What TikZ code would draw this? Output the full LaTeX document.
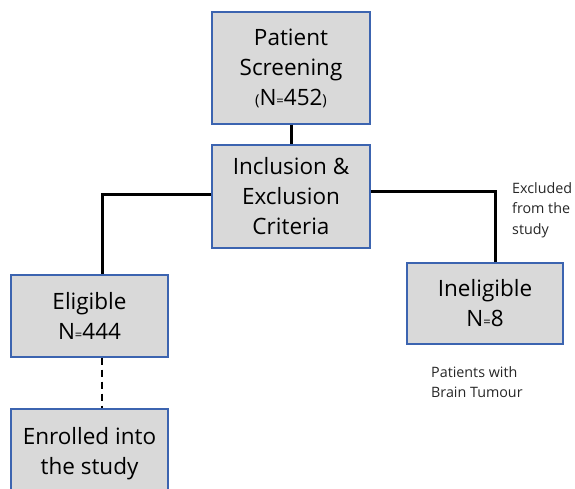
\documentclass[tikz,border=0pt]{standalone}
\usepackage{fontspec}
\setmainfont{Open Sans}
\usetikzlibrary{positioning}
\definecolor{boxfill}{HTML}{D9D9D9}
\definecolor{boxedge}{HTML}{3C64B0}
\definecolor{notetext}{HTML}{262626}
\newcommand{\smeq}{{\fontsize{13}{13}\selectfont =}}
\newcommand{\smpar}[1]{{\fontsize{15}{15}\selectfont #1}}
\tikzset{
  stagebox/.style={draw=boxedge, line width=1.1pt, fill=boxfill, rectangle,
    align=center, inner sep=0pt, font=\fontsize{22.5}{30}\selectfont, text=black},
  link/.style={line width=3pt, black},
  dashlink/.style={line width=1.3pt, black, dash pattern=on 7pt off 5pt},
  note/.style={align=left, anchor=north west, inner sep=0pt,
    font=\fontsize{14.3}{20.5}\selectfont, text=notetext}
}
\begin{document}
\begin{tikzpicture}[x=1pt,y=-1pt]
  \useasboundingbox (0,0) rectangle (575,489);
  \begin{scope}
    \clip (0,0) rectangle (575,489);
    % flow boxes
    \node[stagebox, minimum width=158pt, minimum height=112pt] (screen) at (291,68)
      {Patient\\Screening\\\smpar{(}N\smeq452\smpar{)}};
    \node[stagebox, minimum width=158pt, minimum height=103pt] (criteria) at (291,196.5)
      {Inclusion \&\\Exclusion\\Criteria};
    \node[stagebox, minimum width=157pt, minimum height=82pt] (eligible) at (89.5,316)
      {Eligible\\N\smeq444};
    \node[stagebox, minimum width=156pt, minimum height=81pt] (ineligible) at (485,303.5)
      {Ineligible\\N\smeq8};
    \node[stagebox, minimum width=157pt, minimum height=90pt] (enrolled) at (89.5,454)
      {Enrolled into\\the study};
    % connectors
    \draw[link] (screen.south) -- (criteria.north);
    \draw[link] ([yshift=2.5pt]criteria.west) -| ([xshift=12.5pt]eligible.north);
    \draw[link] ([yshift=5.5pt]criteria.east) -| ([xshift=10pt]ineligible.north);
    \draw[dashlink] ([xshift=12.5pt]eligible.south) -- ([xshift=12.5pt]enrolled.north);
  \end{scope}
  % side notes
  \node[note] (excl) at (512,182) {Excluded\\from the\\study};
  \node[note] (tumour) at (431,366) {Patients with\\Brain Tumour};
\end{tikzpicture}
\end{document}
